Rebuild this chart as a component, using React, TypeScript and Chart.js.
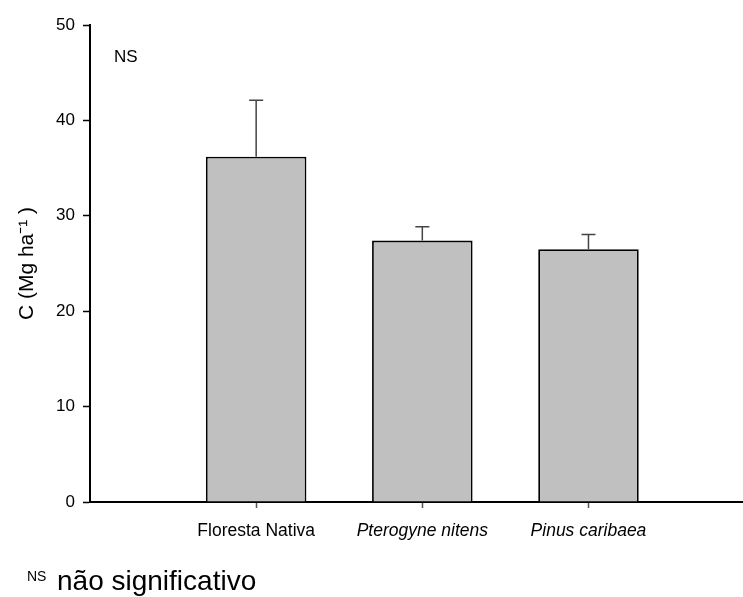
import React, { useEffect, useRef } from "react";
import { Chart, registerables } from "chart.js";

Chart.register(...registerables);

const categories = ["Floresta Nativa", "Pterogyne nitens", "Pinus caribaea"];
const italicLabels = [false, true, true];
const xPositions = [1, 2, 3];
const means = [36.2, 27.4, 26.5];
const errors = [5.9, 1.45, 1.55];
const yTicks = [0, 10, 20, 30, 40, 50];

const FONT = "'Liberation Sans', Arial, sans-serif";

const errorBarPlugin = {
  id: "errorBars",
  afterDatasetsDraw(chart: any) {
    const { ctx, scales } = chart;
    const xs = scales.x;
    const ys = scales.y;
    ctx.save();
    ctx.strokeStyle = "#444";
    ctx.lineWidth = 1.5;
    means.forEach((m, i) => {
      const px = xs.getPixelForValue(xPositions[i]);
      const yb = ys.getPixelForValue(m);
      const yt = ys.getPixelForValue(m + errors[i]);
      ctx.beginPath();
      ctx.moveTo(px, yb);
      ctx.lineTo(px, yt);
      ctx.moveTo(px - 7, yt);
      ctx.lineTo(px + 7, yt);
      ctx.stroke();
    });
    ctx.restore();
  },
};

const nsPlugin = {
  id: "nsLabel",
  afterDraw(chart: any) {
    const { ctx, chartArea } = chart;
    ctx.save();
    ctx.fillStyle = "#000";
    ctx.font = `17px ${FONT}`;
    ctx.textBaseline = "alphabetic";
    ctx.textAlign = "left";
    ctx.fillText("NS", chartArea.left + 24, chartArea.top + 37);
    ctx.restore();
  },
};

export default function App() {
  const canvasRef = useRef<HTMLCanvasElement | null>(null);

  useEffect(() => {
    if (!canvasRef.current) return;
    const chart = new Chart(canvasRef.current, {
      type: "bar",
      data: {
        datasets: [
          {
            data: means.map((m, i) => ({ x: xPositions[i], y: m })),
            backgroundColor: "#c0c0c0",
            borderColor: "#000",
            borderWidth: 1.8,
            categoryPercentage: 0.605,
            barPercentage: 1,
          },
        ],
      },
      options: {
        animation: false,
        responsive: true,
        maintainAspectRatio: false,
        layout: { padding: { top: 25, left: 0, right: 0, bottom: 0 } },
        plugins: {
          legend: { display: false },
          tooltip: { enabled: false },
        },
        scales: {
          x: {
            type: "linear",
            min: 0,
            max: 3.93,
            offset: false,
            afterBuildTicks: (scale: any) => {
              scale.ticks = xPositions.map((v) => ({ value: v }));
            },
            afterFit: (scale: any) => {
              scale.height = 95;
            },
            ticks: {
              autoSkip: false,
              maxRotation: 0,
              padding: 13,
              color: "#000",
              font: (ctx: any) => ({
                family: FONT,
                size: 17.5,
                style: italicLabels[ctx.index] ? "italic" : "normal",
              }),
              callback: (value: any) => {
                const i = xPositions.indexOf(Number(value));
                return i >= 0 ? categories[i] : "";
              },
            },
            grid: {
              display: true,
              drawOnChartArea: false,
              drawTicks: true,
              tickLength: 6,
              tickColor: "#555",
              tickWidth: 1.5,
              offset: false,
            },
            border: { display: true, color: "#000", width: 2 },
          },
          y: {
            min: 0,
            max: 50,
            afterBuildTicks: (scale: any) => {
              scale.ticks = yTicks.map((v) => ({ value: v }));
            },
            afterFit: (scale: any) => {
              scale.width = 90;
            },
            ticks: {
              padding: 8,
              color: "#000",
              font: { family: FONT, size: 17 },
            },
            grid: {
              display: true,
              drawOnChartArea: false,
              drawTicks: true,
              tickLength: 7,
              tickColor: "#000",
              tickWidth: 1.5,
            },
            border: { display: true, color: "#000", width: 2 },
            title: {
              display: true,
              text: "C (Mg ha\u207B\u00B9 )",
              color: "#000",
              font: { family: FONT, size: 21 },
              padding: { top: 15, bottom: 0 },
            },
          },
        },
      },
      plugins: [errorBarPlugin, nsPlugin],
    });
    return () => chart.destroy();
  }, []);

  return (
    <div
      style={{
        position: "fixed",
        left: 0,
        top: 0,
        width: 743,
        height: 597,
        overflow: "hidden",
        background: "#fff",
      }}
    >
      <div style={{ position: "absolute", left: 0, top: 0, width: 743, height: 597 }}>
        <canvas ref={canvasRef} />
      </div>
      <span
        style={{
          position: "absolute",
          left: 27,
          top: 569,
          fontFamily: FONT,
          fontSize: 14,
          lineHeight: 1,
          color: "#000",
          whiteSpace: "nowrap",
        }}
      >
        NS
      </span>
      <span
        style={{
          position: "absolute",
          left: 57,
          top: 567,
          fontFamily: FONT,
          fontSize: 28,
          lineHeight: 1,
          color: "#000",
          whiteSpace: "nowrap",
        }}
      >
        não significativo
      </span>
    </div>
  );
}
